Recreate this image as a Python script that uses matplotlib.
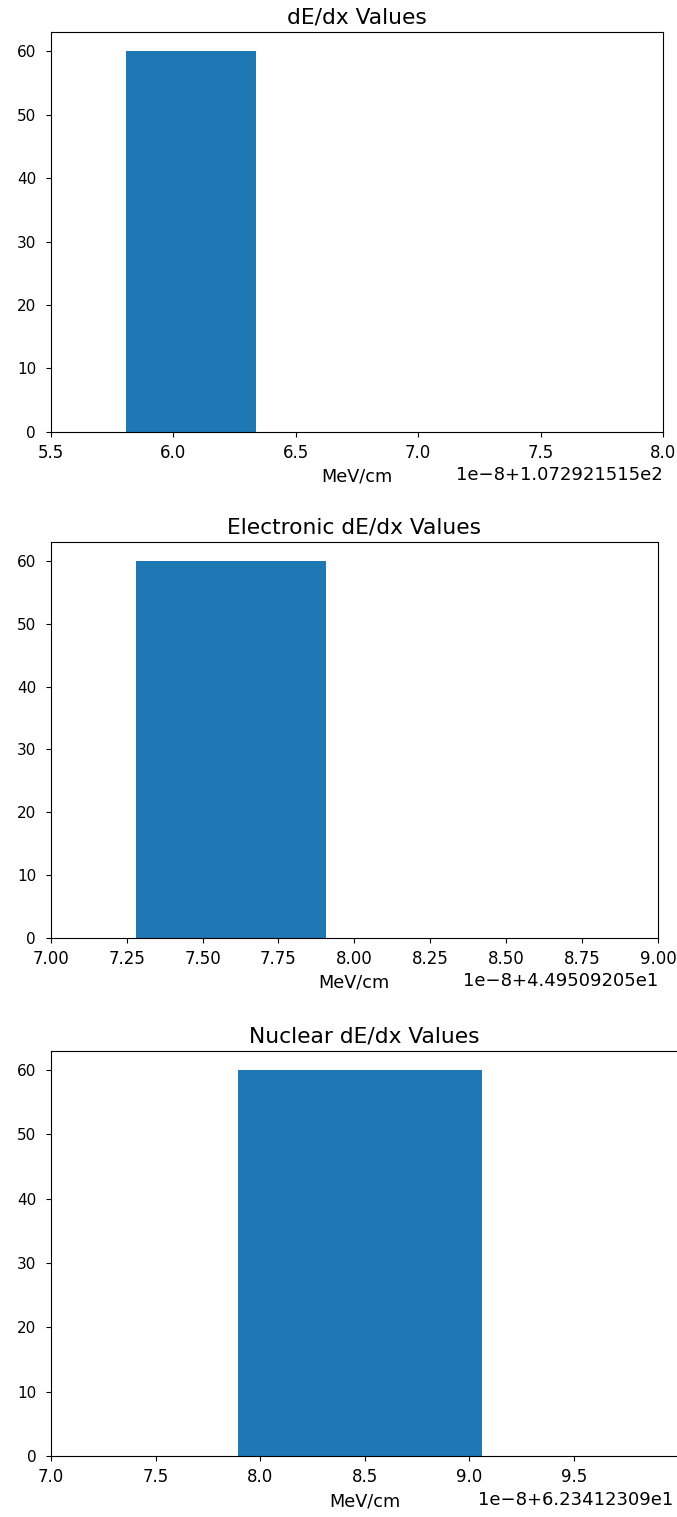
import matplotlib
matplotlib.use("Agg")
import matplotlib.pyplot as plt

# dE/dx histograms (offset + bin edges in units of 1e-8 MeV/cm)
titles = ["dE/dx Values", "Electronic dE/dx Values", "Nuclear dE/dx Values"]
offsets = [107.2921515, 44.9509205, 62.3412309]
bin_lo = [5.807, 7.281, 7.896]
bin_hi = [6.338, 7.908, 9.063]
counts = [60, 60, 60]
x_limits = [(5.5, 8.0), (7.0, 9.0), (7.0, 9.998)]

plt.rcParams["xtick.labelsize"] = 12
plt.rcParams["ytick.labelsize"] = 11
plt.rcParams["axes.labelsize"] = 12.7
plt.rcParams["axes.titlesize"] = 15.7
plt.rcParams["xtick.major.pad"] = 5.5
plt.rcParams["ytick.major.pad"] = 7

W, H = 677, 1517
fig = plt.figure(figsize=(W / 100, H / 100), dpi=100)

# axes boxes in pixels: left, right, top, bottom
boxes = [(50.7, 663, 32.3, 431.7),
         (50.7, 658, 542.3, 937.7),
         (51, 678, 1050.7, 1456)]
# offset text end, in pixels
offset_end = [663, 658, 673]

for i in range(3):
    l, r, t, b = boxes[i]
    ax = fig.add_axes([l / W, 1 - b / H, (r - l) / W, (b - t) / H])
    off = offsets[i]
    lo = off + bin_lo[i] * 1e-8
    hi = off + bin_hi[i] * 1e-8
    ax.hist([(lo + hi) / 2], bins=[lo, hi], weights=[counts[i]])
    ax.set_xlim(off + x_limits[i][0] * 1e-8, off + x_limits[i][1] * 1e-8)
    ax.ticklabel_format(axis="x", useOffset=off)
    ax.xaxis.get_offset_text().set_fontsize(13)
    ax.xaxis.get_offset_text().set_x((offset_end[i] - l) / (r - l))
    ax.set_title(titles[i])
    ax.set_xlabel("MeV/cm")

fig.savefig("out.png", dpi=100)
